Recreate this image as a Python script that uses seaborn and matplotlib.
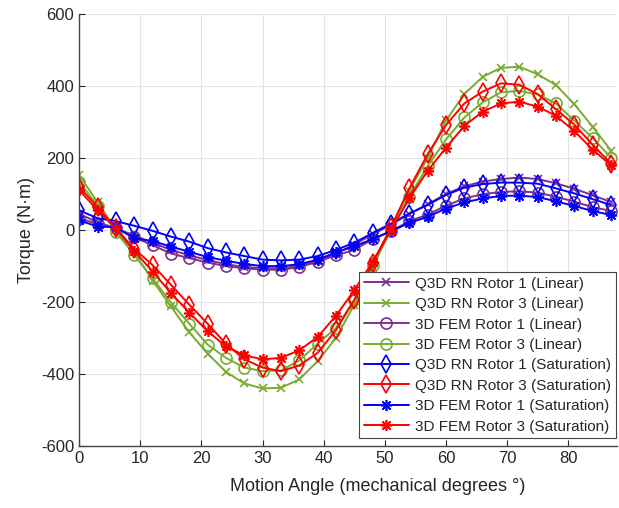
import numpy as np
import pandas as pd
import matplotlib
matplotlib.use("Agg")
import matplotlib.pyplot as plt
import seaborn as sns

angle = list(range(0, 88, 3))

q3d_r1_lin = [45, 22, 5, -15, -35, -55, -70, -83, -95, -102, -106, -106, -100, -86, -65,
              -40, -12, 15, 45, 72, 100, 122, 135, 142, 146, 142, 130, 115, 97, 78]
q3d_r3_lin = [152, 78, 2, -62, -140, -212, -284, -343, -394, -426, -440, -438, -415, -364, -300,
              -207, -105, 5, 110, 200, 305, 378, 426, 451, 454, 433, 403, 350, 287, 221]
fem_r1_lin = [32, 18, 5, -20, -42, -65, -78, -90, -100, -106, -110, -110, -103, -88, -70,
              -55, -25, -3, 25, 43, 68, 88, 100, 106, 108, 104, 93, 79, 64, 53]
fem_r3_lin = [134, 68, -5, -69, -134, -201, -260, -318, -355, -382, -392, -390, -362, -316, -272,
              -194, -98, 2, 93, 178, 252, 313, 355, 383, 387, 377, 352, 304, 256, 201]
q3d_r1_sat = [55, 33, 25, 12, -2, -18, -32, -50, -62, -72, -82, -84, -82, -72, -55,
              -35, -8, 18, 46, 70, 98, 118, 128, 132, 132, 129, 116, 102, 86, 70]
q3d_r3_sat = [120, 64, 5, -52, -97, -152, -207, -260, -316, -359, -382, -392, -376, -341, -278,
              -194, -92, 8, 116, 211, 292, 352, 385, 408, 404, 378, 336, 293, 237, 185]
fem_r1_sat = [27, 10, 8, -23, -30, -46, -60, -75, -85, -94, -100, -100, -95, -82, -62,
              -45, -25, -3, 20, 37, 60, 77, 88, 95, 96, 92, 80, 67, 53, 42]
fem_r3_sat = [111, 55, 5, -58, -115, -175, -229, -281, -323, -348, -359, -355, -334, -297, -238,
              -167, -88, 0, 88, 165, 229, 290, 329, 352, 357, 343, 318, 275, 224, 180]

labels = ["Q3D RN Rotor 1 (Linear)", "Q3D RN Rotor 3 (Linear)",
          "3D FEM Rotor 1 (Linear)", "3D FEM Rotor 3 (Linear)",
          "Q3D RN Rotor 1 (Saturation)", "Q3D RN Rotor 3 (Saturation)",
          "3D FEM Rotor 1 (Saturation)", "3D FEM Rotor 3 (Saturation)"]
series = [q3d_r1_lin, q3d_r3_lin, fem_r1_lin, fem_r3_lin,
          q3d_r1_sat, q3d_r3_sat, fem_r1_sat, fem_r3_sat]

purple = "#7E2F8E"
green = "#77AC30"
colors = [purple, green, purple, green, "#0000FF", "#FF0000", "#0000FF", "#FF0000"]
asterisk = (8, 2, 0)
markers = ["x", "x", "o", "o", "d", "d", asterisk, asterisk]
msizes = [6, 6, 8, 8, 9, 9, 8, 8]

sns.set_style("white")
plt.rcParams['font.family'] = ['Liberation Sans', 'DejaVu Sans']
plt.rcParams['axes.unicode_minus'] = False

fig = plt.figure(figsize=(6.19, 5.08), dpi=100)
ax = fig.add_axes([0.128, 0.122, 0.869, 0.850])

for lab, ys, c, m, ms in zip(labels, series, colors, markers, msizes):
    df = pd.DataFrame({"angle": angle, "torque": ys})
    sns.lineplot(data=df, x="angle", y="torque", ax=ax, color=c, marker=m,
                 markersize=ms, markerfacecolor="none", markeredgecolor=c,
                 markeredgewidth=1.2, linewidth=1.4, label=lab)

ax.set_xlim(0, 88)
ax.set_ylim(-600, 600)
ax.set_xticks(range(0, 90, 10))
ax.set_yticks(range(-600, 601, 200))
ax.grid(True, color="#E3E3E3", linewidth=0.8)
ax.set_axisbelow(True)
for s in ["top", "right"]:
    ax.spines[s].set_visible(False)
for s in ["left", "bottom"]:
    ax.spines[s].set_color("#444444")
    ax.spines[s].set_linewidth(1.0)
ax.tick_params(axis="both", labelsize=12, colors="#262626", length=4, direction="in",
               left=True, bottom=True)
ax.set_xlabel("Motion Angle (mechanical degrees °)", fontsize=13, color="#262626")
ax.xaxis.set_label_coords(0.554, -0.075)
ax.set_ylabel("Torque (N·m)", fontsize=13, color="#262626")

leg = ax.legend(loc="lower right", bbox_to_anchor=(0.998, 0.018), fontsize=11,
                handlelength=3.0, labelspacing=0.42, borderpad=0.3, handletextpad=0.4,
                fancybox=False, framealpha=1, edgecolor="#444444", borderaxespad=0.0)
leg.get_frame().set_linewidth(0.8)

fig.savefig("out.png", dpi=100)
